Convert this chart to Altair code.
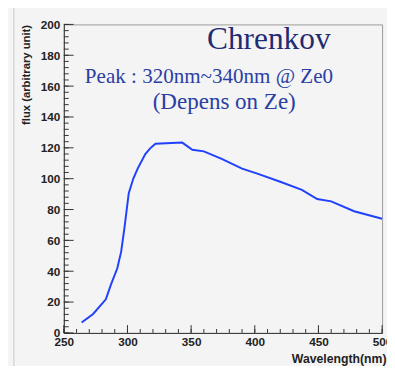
import altair as alt
import pandas as pd

# Curve values
wavelength = [264, 273, 283, 287, 292, 295, 297.5, 301, 304.6, 308, 314, 318, 322,
              343, 351, 360, 374, 390, 402, 420, 437, 449, 460, 478, 500]
flux = [6.7, 12.3, 21.8, 31.3, 41.9, 52.5, 67.3, 90.6, 100.1, 106.5, 116, 119.8, 122.7,
        123.4, 118.7, 117.7, 112.8, 106.5, 103.3, 98, 92.7, 86.8, 85.3, 78.9, 74]

x_ticks_minor = list(range(250, 501, 10))
x_ticks_major = list(range(250, 501, 50))
y_ticks_minor = list(range(0, 201, 4))
y_ticks_major = list(range(0, 201, 20))

title_text = ["Chrenkov"]
title_pos = [(411, 184)]
sub_texts = ["Peak : 320nm~340nm @ Ze0", "(Depens on Ze)"]
sub_pos = [(364, 162), (376, 145)]

W, H = 325, 315
xscale = alt.Scale(domain=[250, 500], nice=False, zero=False)
yscale = alt.Scale(domain=[0, 200], nice=False)

label_font = "Liberation Sans"

xaxis = alt.Axis(values=x_ticks_major, ticks=False, domain=True, grid=False,
                 labelFont=label_font, labelFontSize=12, labelFontWeight="bold",
                 labelColor="#222", labelPadding=4, labelFlush=False,
                 title="Wavelength(nm)", titleFont=label_font, titleFontSize=12.5,
                 titleFontWeight="bold", titleColor="#222", titleAnchor="end",
                 titleAlign="right", titleX=329, titleY=30, titleBaseline="alphabetic",
                 domainColor="#333")
yaxis = alt.Axis(values=y_ticks_major, ticks=False, domain=True, grid=False,
                 labelFont=label_font, labelFontSize=12, labelFontWeight="bold",
                 labelColor="#222", labelPadding=4, labelFlush=False,
                 title="flux (arbitrary unit)", titleFont=label_font, titleFontSize=11.5,
                 titleFontWeight="bold", titleColor="#222", titleAngle=-90,
                 titleAnchor="end", titleAlign="right", titleX=-38, titleY=0,
                 titleBaseline="middle", domainColor="#333")

def X():
    return alt.X("w:Q", scale=xscale, axis=xaxis)

def Y():
    return alt.Y("f:Q", scale=yscale, axis=yaxis)

curve = pd.DataFrame({"w": wavelength, "f": flux})
line = alt.Chart(curve).mark_line(color="#2040ff", strokeWidth=2).encode(x=X(), y=Y())

def xt(vals, length):
    return alt.Chart(pd.DataFrame({"w": vals})).mark_rule(color="#333", strokeWidth=1).encode(
        x=X(), y=alt.value(H), y2=alt.value(H - length))

def yt(vals, length):
    return alt.Chart(pd.DataFrame({"f": vals})).mark_rule(color="#333", strokeWidth=1).encode(
        y=Y(), x=alt.value(0), x2=alt.value(length))

tdf = pd.DataFrame({"w": [p[0] for p in title_pos], "f": [p[1] for p in title_pos], "t": title_text})
title = alt.Chart(tdf).mark_text(font="Liberation Serif", fontSize=32, color="#1f2b72",
                                 align="center", baseline="alphabetic").encode(
    x=X(), y=Y(), text="t:N")

sdf = pd.DataFrame({"w": [sub_pos[0][0]], "f": [sub_pos[0][1]], "t": [sub_texts[0]]})
sub1 = alt.Chart(sdf).mark_text(font="Liberation Serif", fontSize=21.5, color="#2b3ea3",
                                align="center", baseline="alphabetic").encode(
    x=X(), y=Y(), text="t:N")
sdf2 = pd.DataFrame({"w": [sub_pos[1][0]], "f": [sub_pos[1][1]], "t": [sub_texts[1]]})
sub2 = alt.Chart(sdf2).mark_text(font="Liberation Serif", fontSize=23.5, color="#2b3ea3",
                                 align="center", baseline="alphabetic").encode(
    x=X(), y=Y(), text="t:N")

edge = alt.Chart(pd.DataFrame({"w": [250]})).mark_rule(color="#c8c8c8", strokeWidth=1).encode(
    x=alt.value(-51), y=alt.value(-21), y2=alt.value(H + 50))

chart = alt.layer(
    line, xt(x_ticks_minor, 4), xt(x_ticks_major, 8), yt(y_ticks_minor, 5), yt(y_ticks_major, 10),
    title, sub1, sub2, edge
).properties(
    width=W, height=H,
    autosize=alt.AutoSizeParams(type="none"),
    padding={"left": 57, "top": 13, "right": 5, "bottom": 30},
    background="#f4f4f4",
).configure_view(stroke="#9a9a9a", strokeWidth=1)

chart.save("out.html", embed_options={"renderer": "svg", "actions": False})
